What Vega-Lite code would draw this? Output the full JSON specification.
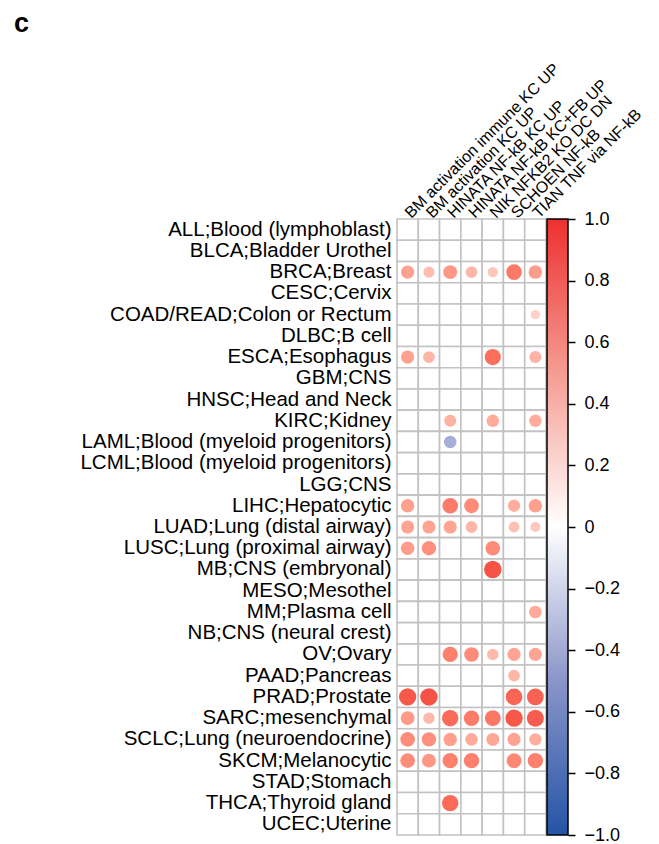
{
  "$schema": "https://vega.github.io/schema/vega-lite/v6.json",
  "padding": {"left": 13, "top": 10, "right": 0, "bottom": 5},
  "background": "white",
  "bounds": "flush",
  "config": {"font": "Liberation Sans", "view": {"stroke": null}},
  "title": {"text": "c", "anchor": "start", "fontSize": 27, "fontWeight": "bold", "color": "black", "dx": -66, "frame": "bounds", "offset": 22},
  "hconcat": [
    {
      "width": 149,
      "height": 616,
      "data": {
        "values": [
          {"cancer": "ALL;Blood (lymphoblast)"},
          {"cancer": "BLCA;Bladder Urothel"},
          {"cancer": "BRCA;Breast", "BM activation immune KC UP": 0.51, "BM activation KC UP": 0.36, "HINATA NF-kB KC UP": 0.56, "HINATA NF-kB KC+FB UP": 0.40, "NIK NFKB2 KO DC DN": 0.31, "SCHOEN NF-kB": 0.71, "TIAN TNF via NF-kB": 0.53},
          {"cancer": "CESC;Cervix"},
          {"cancer": "COAD/READ;Colon or Rectum", "TIAN TNF via NF-kB": 0.25},
          {"cancer": "DLBC;B cell"},
          {"cancer": "ESCA;Esophagus", "BM activation immune KC UP": 0.51, "BM activation KC UP": 0.40, "NIK NFKB2 KO DC DN": 0.76, "TIAN TNF via NF-kB": 0.42},
          {"cancer": "GBM;CNS"},
          {"cancer": "HNSC;Head and Neck"},
          {"cancer": "KIRC;Kidney", "HINATA NF-kB KC UP": 0.42, "NIK NFKB2 KO DC DN": 0.45, "TIAN TNF via NF-kB": 0.45},
          {"cancer": "LAML;Blood (myeloid progenitors)", "HINATA NF-kB KC UP": -0.45},
          {"cancer": "LCML;Blood (myeloid progenitors)"},
          {"cancer": "LGG;CNS"},
          {"cancer": "LIHC;Hepatocytic", "BM activation immune KC UP": 0.52, "HINATA NF-kB KC UP": 0.70, "HINATA NF-kB KC+FB UP": 0.63, "SCHOEN NF-kB": 0.44, "TIAN TNF via NF-kB": 0.52},
          {"cancer": "LUAD;Lung (distal airway)", "BM activation immune KC UP": 0.50, "BM activation KC UP": 0.50, "HINATA NF-kB KC UP": 0.50, "HINATA NF-kB KC+FB UP": 0.40, "SCHOEN NF-kB": 0.34, "TIAN TNF via NF-kB": 0.30},
          {"cancer": "LUSC;Lung (proximal airway)", "BM activation immune KC UP": 0.53, "BM activation KC UP": 0.60, "NIK NFKB2 KO DC DN": 0.62},
          {"cancer": "MB;CNS (embryonal)", "NIK NFKB2 KO DC DN": 0.88},
          {"cancer": "MESO;Mesothel"},
          {"cancer": "MM;Plasma cell", "TIAN TNF via NF-kB": 0.46},
          {"cancer": "NB;CNS (neural crest)"},
          {"cancer": "OV;Ovary", "HINATA NF-kB KC UP": 0.68, "HINATA NF-kB KC+FB UP": 0.62, "NIK NFKB2 KO DC DN": 0.38, "SCHOEN NF-kB": 0.50, "TIAN TNF via NF-kB": 0.50},
          {"cancer": "PAAD;Pancreas", "SCHOEN NF-kB": 0.40},
          {"cancer": "PRAD;Prostate", "BM activation immune KC UP": 0.86, "BM activation KC UP": 0.88, "SCHOEN NF-kB": 0.80, "TIAN TNF via NF-kB": 0.82},
          {"cancer": "SARC;mesenchymal", "BM activation immune KC UP": 0.55, "BM activation KC UP": 0.38, "HINATA NF-kB KC UP": 0.78, "HINATA NF-kB KC+FB UP": 0.70, "NIK NFKB2 KO DC DN": 0.72, "SCHOEN NF-kB": 0.86, "TIAN TNF via NF-kB": 0.84},
          {"cancer": "SCLC;Lung (neuroendocrine)", "BM activation immune KC UP": 0.62, "BM activation KC UP": 0.60, "HINATA NF-kB KC UP": 0.52, "HINATA NF-kB KC+FB UP": 0.46, "NIK NFKB2 KO DC DN": 0.48, "SCHOEN NF-kB": 0.50, "TIAN TNF via NF-kB": 0.44},
          {"cancer": "SKCM;Melanocytic", "BM activation immune KC UP": 0.62, "BM activation KC UP": 0.56, "HINATA NF-kB KC UP": 0.68, "HINATA NF-kB KC+FB UP": 0.68, "SCHOEN NF-kB": 0.64, "TIAN TNF via NF-kB": 0.68},
          {"cancer": "STAD;Stomach"},
          {"cancer": "THCA;Thyroid gland", "HINATA NF-kB KC UP": 0.78},
          {"cancer": "UCEC;Uterine"}
        ]
      },
      "transform": [
        {"fold": ["BM activation immune KC UP", "BM activation KC UP", "HINATA NF-kB KC UP", "HINATA NF-kB KC+FB UP", "NIK NFKB2 KO DC DN", "SCHOEN NF-kB", "TIAN TNF via NF-kB"], "as": ["signature", "value"]}
      ],
      "encoding": {
        "x": {"field": "signature", "type": "nominal", "sort": null, "title": null,
              "scale": {"paddingInner": 0, "paddingOuter": 0},
              "axis": {"orient": "top", "labelAngle": -45, "labelAlign": "left", "labelBaseline": "middle", "ticks": false, "domain": false, "labelPadding": 4, "labelFontSize": 16, "labelColor": "black", "labelFont": "Liberation Sans", "labelLimit": 400}},
        "y": {"field": "cancer", "type": "nominal", "sort": null, "title": null,
              "scale": {"paddingInner": 0, "paddingOuter": 0},
              "axis": {"orient": "left", "ticks": false, "domain": false, "labelPadding": 6, "labelFontSize": 20.5, "labelColor": "black", "labelFont": "Liberation Sans", "labelLimit": 500}}
      },
      "layer": [
        {"mark": {"type": "rect", "fill": "white", "stroke": "#c2c2c2", "strokeWidth": 1.6}},
        {
          "transform": [{"filter": "isValid(datum.value)"}],
          "mark": {"type": "circle", "opacity": 1},
          "encoding": {
            "color": {"field": "value", "type": "quantitative", "legend": null,
                      "scale": {"domain": [-1, 0, 1], "range": ["#2454a6", "#ffffff", "#ee3030"], "interpolate": "lab"}},
            "size": {"field": "value", "type": "quantitative", "legend": null,
                     "scale": {"domain": [-1, 0, 1], "range": [346, 0, 346]}}
          }
        }
      ]
    },
    {
      "width": 21,
      "height": 616,
      "data": {"values": [{"lo": -1, "hi": 1}]},
      "mark": {"type": "rect", "stroke": "black", "strokeWidth": 1.5,
               "fill": {"gradient": "linear", "x1": 0, "y1": 1, "x2": 0, "y2": 0,
                        "stops": [{"offset": 0, "color": "#2454a6"}, {"offset": 0.25, "color": "#8a95c9"}, {"offset": 0.5, "color": "#ffffff"}, {"offset": 0.75, "color": "#f59c92"}, {"offset": 1, "color": "#ee3030"}]}},
      "encoding": {
        "x": {"value": 0},
        "x2": {"value": "width"},
        "y": {"field": "lo", "type": "quantitative", "title": null,
              "scale": {"domain": [-1, 1], "nice": false, "zero": false},
              "axis": {"orient": "right", "values": [-1, -0.8, -0.6, -0.4, -0.2, 0, 0.2, 0.4, 0.6, 0.8, 1], "labelExpr": "datum.value == 0 ? '0' : format(datum.value, '.1f')", "domain": false, "grid": false, "tickColor": "black", "tickSize": 7, "tickWidth": 1.5, "labelPadding": 9, "labelFontSize": 18, "labelColor": "black", "labelFont": "Liberation Sans"}},
        "y2": {"field": "hi"}
      }
    }
  ],
  "spacing": 1
}
